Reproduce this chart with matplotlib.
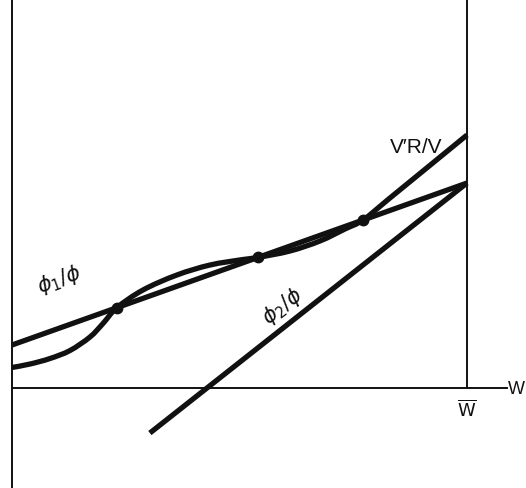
import matplotlib
matplotlib.use('Agg')
import matplotlib.pyplot as plt
from matplotlib.path import Path
import matplotlib.patches as mpatches
import numpy as np

plt.rcParams['font.family'] = ['Liberation Sans', 'DejaVu Sans']
plt.rcParams['mathtext.fontset'] = 'dejavusans'

# w scaled so that W-bar = 1
W_BAR = 1.0

# phi1/phi: straight line through its end values
phi1_w = [0.0, 1.0]
phi1_y = [0.0945, 0.4505]

# phi2/phi: straight line, starts inside the plot
phi2_w = [0.303, 1.0]
phi2_y = [-0.099, 0.4505]

# V'R/V curve, read point by point
vrv_w = [0.0, 0.0396, 0.0835, 0.1275, 0.1714, 0.2000, 0.2308, 0.2879, 0.3626,
         0.4352, 0.5077, 0.5407, 0.6110, 0.6769, 0.7319, 0.7714, 0.8308,
         0.8967, 0.9516, 1.0]
vrv_y = [0.0451, 0.0527, 0.0648, 0.0824, 0.1121, 0.1418, 0.1767, 0.2154, 0.2484,
         0.2703, 0.2824, 0.2870, 0.3011, 0.3231, 0.3495, 0.3691, 0.4177,
         0.4715, 0.5164, 0.5560]

# where the curve meets phi1/phi
cross_w = [0.2308, 0.5407, 0.7714]


def smooth_path(xs, ys):
    """Catmull-Rom through the points, handed to matplotlib as cubic Beziers."""
    p = np.column_stack([xs, ys])
    verts = [p[0]]
    codes = [Path.MOVETO]
    for i in range(len(p) - 1):
        p0 = p[i - 1] if i > 0 else p[i]
        p3 = p[i + 2] if i + 2 < len(p) else p[i + 1]
        c1 = p[i] + (p[i + 1] - p0) / 6.0
        c2 = p[i + 1] - (p3 - p[i]) / 6.0
        verts += [c1, c2, p[i + 1]]
        codes += [Path.CURVE4] * 3
    return Path(verts, codes)


fig = plt.figure(figsize=(5.26, 4.88), dpi=100)
ax = fig.add_axes([0, 0, 1, 1])
ax.set_xlim(-12 / 455, 514 / 455)
ax.set_ylim(-100 / 455, 388 / 455)
ax.axis('off')

lw = 3.8
ink = '#111111'

# axes drawn by hand: left spine, w axis, vertical at W-bar
ax.plot([0, 0], [-0.25, 0.9], color=ink, lw=1.4)
ax.plot([0, 1.087], [0, 0], color=ink, lw=1.4)
ax.plot([W_BAR, W_BAR], [0, 0.9], color=ink, lw=1.4)

ax.plot(phi1_w, phi1_y, color=ink, lw=lw, solid_capstyle='butt')
ax.plot(phi2_w, phi2_y, color=ink, lw=lw, solid_capstyle='butt')
ax.add_patch(mpatches.PathPatch(smooth_path(vrv_w, vrv_y), fill=False,
                                edgecolor=ink, lw=lw, capstyle='butt'))

cross_y = np.interp(cross_w, phi1_w, phi1_y)
ax.plot(cross_w, cross_y, 'o', color=ink, markersize=7.5)

ax.text(1.108, -0.004, 'W', fontsize=13, ha='center', va='center', color=ink)
ax.text(W_BAR, -0.048, r'$\overline{\mathrm{W}}$', fontsize=13, ha='center',
        va='center', color=ink)
ax.text(0.888, 0.529, "V\u2032R/V", fontsize=15, ha='center', va='center', color=ink)
ax.text(0.105, 0.237, r'$\phi_1/\phi$', fontsize=15, ha='center', va='center',
        rotation=20, color=ink)
ax.text(0.594, 0.180, r'$\phi_2/\phi$', fontsize=15, ha='center', va='center',
        rotation=38, color=ink)

plt.savefig('out.png', dpi=100)
plt.close()
